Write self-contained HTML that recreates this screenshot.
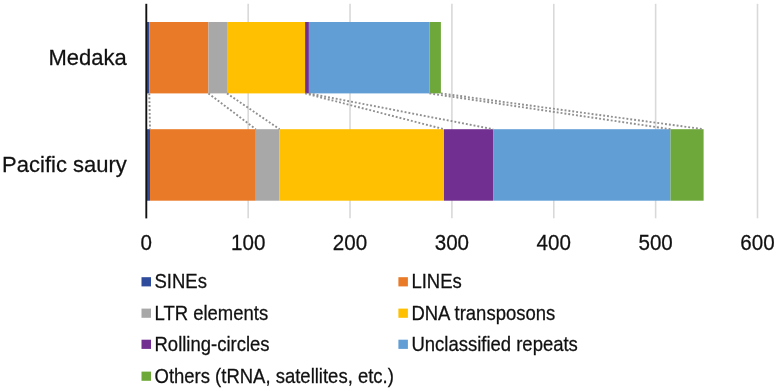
<!DOCTYPE html><html><head><meta charset="utf-8"><style>html,body{margin:0;padding:0;background:#fff;}svg{display:block;will-change:transform;}text{font-family:"Liberation Sans",sans-serif;fill:#111;stroke:#111;stroke-width:0.25px;}</style></head><body>
<svg width="777" height="391" viewBox="0 0 777 391">
<line x1="248.17" y1="3.8" x2="248.17" y2="218.3" stroke="#D9D9D9" stroke-width="1.6"/>
<line x1="350.03" y1="3.8" x2="350.03" y2="218.3" stroke="#D9D9D9" stroke-width="1.6"/>
<line x1="451.90" y1="3.8" x2="451.90" y2="218.3" stroke="#D9D9D9" stroke-width="1.6"/>
<line x1="553.77" y1="3.8" x2="553.77" y2="218.3" stroke="#D9D9D9" stroke-width="1.6"/>
<line x1="655.63" y1="3.8" x2="655.63" y2="218.3" stroke="#D9D9D9" stroke-width="1.6"/>
<line x1="757.50" y1="3.8" x2="757.50" y2="218.3" stroke="#D9D9D9" stroke-width="1.6"/>
<rect x="146.30" y="22.0" width="3.00" height="71.40" fill="#2F4B9B"/>
<rect x="149.30" y="22.0" width="59.10" height="71.40" fill="#E97A27"/>
<rect x="208.40" y="22.0" width="18.60" height="71.40" fill="#A9A8A8"/>
<rect x="227.00" y="22.0" width="78.10" height="71.40" fill="#FEC000"/>
<rect x="305.10" y="22.0" width="3.80" height="71.40" fill="#702F91"/>
<rect x="308.90" y="22.0" width="120.50" height="71.40" fill="#619ED6"/>
<rect x="429.40" y="22.0" width="11.50" height="71.40" fill="#6FA83A"/>
<rect x="146.30" y="129.2" width="3.70" height="71.50" fill="#2F4B9B"/>
<rect x="150.00" y="129.2" width="105.80" height="71.50" fill="#E97A27"/>
<rect x="255.80" y="129.2" width="23.80" height="71.50" fill="#A9A8A8"/>
<rect x="279.60" y="129.2" width="164.40" height="71.50" fill="#FEC000"/>
<rect x="444.00" y="129.2" width="49.10" height="71.50" fill="#702F91"/>
<rect x="493.10" y="129.2" width="177.40" height="71.50" fill="#619ED6"/>
<rect x="670.50" y="129.2" width="33.10" height="71.50" fill="#6FA83A"/>
<line x1="149.30" y1="93.4" x2="150.00" y2="129.2" stroke="#909090" stroke-width="1.9" stroke-dasharray="1.9 2.0"/>
<line x1="208.40" y1="93.4" x2="255.80" y2="129.2" stroke="#909090" stroke-width="1.9" stroke-dasharray="1.9 2.0"/>
<line x1="227.00" y1="93.4" x2="279.60" y2="129.2" stroke="#909090" stroke-width="1.9" stroke-dasharray="1.9 2.0"/>
<line x1="305.10" y1="93.4" x2="444.00" y2="129.2" stroke="#909090" stroke-width="1.9" stroke-dasharray="1.9 2.0"/>
<line x1="308.90" y1="93.4" x2="493.10" y2="129.2" stroke="#909090" stroke-width="1.9" stroke-dasharray="1.9 2.0"/>
<line x1="429.40" y1="93.4" x2="670.50" y2="129.2" stroke="#909090" stroke-width="1.9" stroke-dasharray="1.9 2.0"/>
<line x1="440.90" y1="93.4" x2="703.60" y2="129.2" stroke="#909090" stroke-width="1.9" stroke-dasharray="1.9 2.0"/>
<line x1="146.3" y1="3.8" x2="146.3" y2="218.4" stroke="#111" stroke-width="1.9"/>
<text transform="translate(126.80 64.70) scale(1 1.045)" font-size="22" text-anchor="end">Medaka</text>
<text transform="translate(126.80 172.00) scale(1 1.045)" font-size="22" text-anchor="end">Pacific saury</text>
<text transform="translate(146.30 249.80) scale(1 1.045)" font-size="20.6" text-anchor="middle">0</text>
<text transform="translate(248.17 249.80) scale(1 1.045)" font-size="20.6" text-anchor="middle">100</text>
<text transform="translate(350.03 249.80) scale(1 1.045)" font-size="20.6" text-anchor="middle">200</text>
<text transform="translate(451.90 249.80) scale(1 1.045)" font-size="20.6" text-anchor="middle">300</text>
<text transform="translate(553.77 249.80) scale(1 1.045)" font-size="20.6" text-anchor="middle">400</text>
<text transform="translate(655.63 249.80) scale(1 1.045)" font-size="20.6" text-anchor="middle">500</text>
<text transform="translate(757.50 249.80) scale(1 1.045)" font-size="20.6" text-anchor="middle">600</text>
<rect x="141.5" y="277.2" width="9.5" height="9.2" fill="#2F4B9B"/>
<text transform="translate(154.50 288.10) scale(1 1.045)" font-size="18.5" text-anchor="start">SINEs</text>
<rect x="398.4" y="277.2" width="9.5" height="9.2" fill="#E97A27"/>
<text transform="translate(411.40 288.10) scale(1 1.045)" font-size="18.5" text-anchor="start">LINEs</text>
<rect x="141.5" y="308.6" width="9.5" height="9.2" fill="#A9A8A8"/>
<text transform="translate(154.50 319.50) scale(1 1.045)" font-size="18.5" text-anchor="start">LTR elements</text>
<rect x="398.4" y="308.6" width="9.5" height="9.2" fill="#FEC000"/>
<text transform="translate(411.40 319.50) scale(1 1.045)" font-size="18.5" text-anchor="start">DNA transposons</text>
<rect x="141.5" y="339.7" width="9.5" height="9.2" fill="#702F91"/>
<text transform="translate(154.50 350.60) scale(1 1.045)" font-size="18.5" text-anchor="start">Rolling-circles</text>
<rect x="398.4" y="339.7" width="9.5" height="9.2" fill="#619ED6"/>
<text transform="translate(411.40 350.60) scale(1 1.045)" font-size="18.5" text-anchor="start">Unclassified repeats</text>
<rect x="141.5" y="371.6" width="9.5" height="9.2" fill="#6FA83A"/>
<text transform="translate(154.50 382.50) scale(1 1.045)" font-size="18.5" text-anchor="start">Others (tRNA, satellites, etc.)</text>
</svg></body></html>
